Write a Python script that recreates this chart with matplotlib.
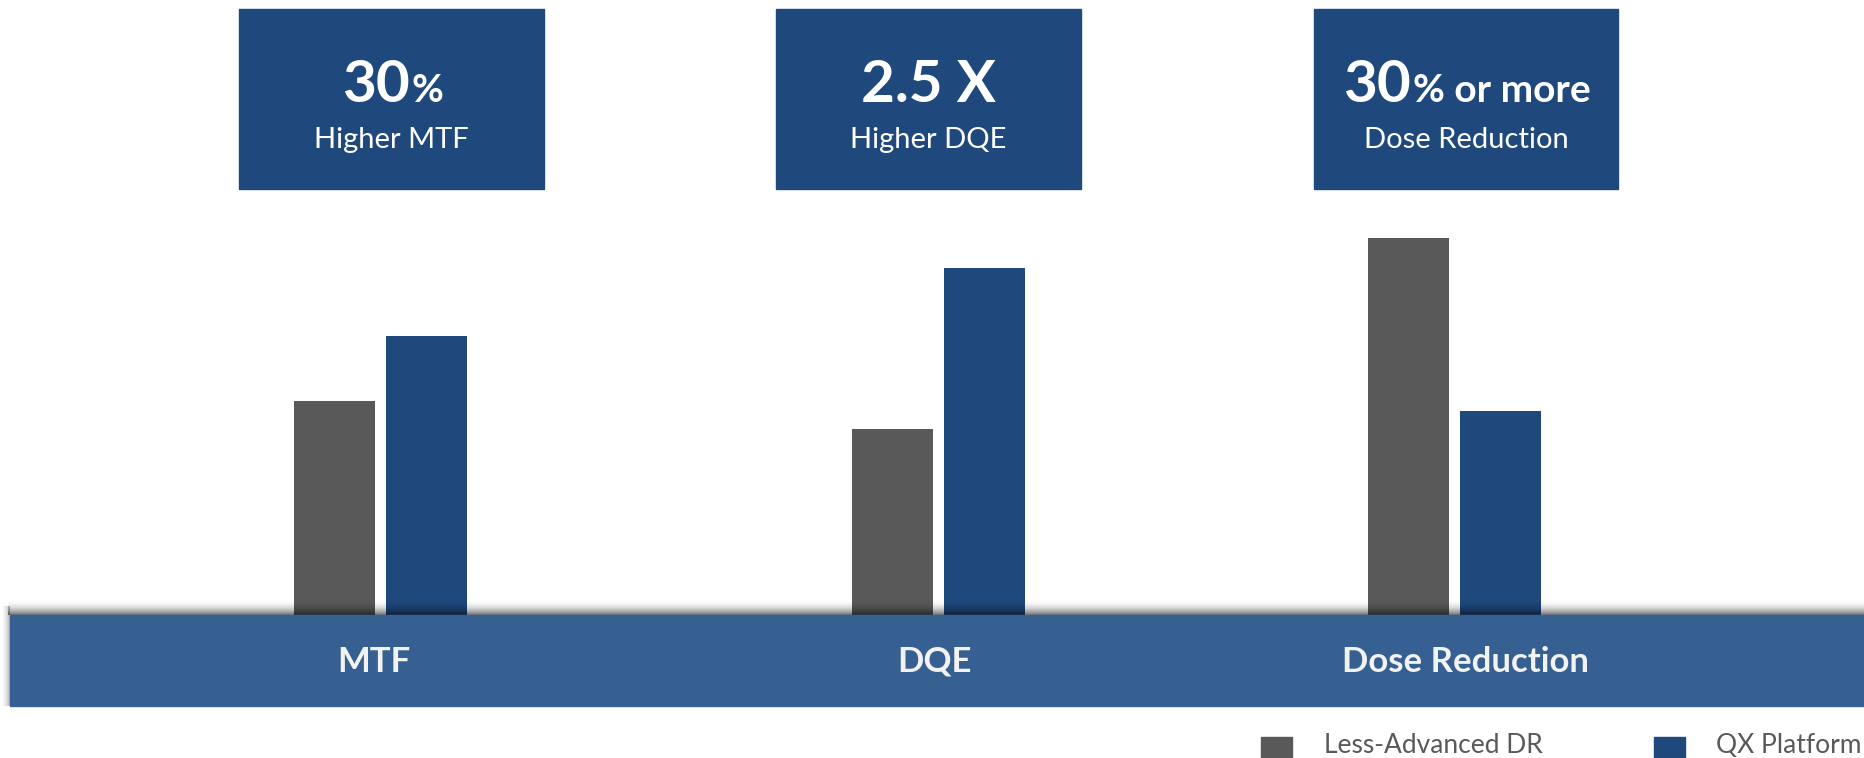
import numpy as np
import matplotlib.pyplot as plt
from matplotlib.patches import Rectangle

# data
categories = ['MTF', 'DQE', 'Dose Reduction']
series_names = ['Less-Advanced DR', 'QX Platform']
less_advanced = [214, 186, 377]   # gray bars
qx_platform = [279, 347, 204]     # blue bars
box_titles = [('30', '%'), ('2.5 X', ''), ('30', '% or more')]
box_subtitles = ['Higher MTF', 'Higher DQE', 'Dose Reduction']

# colours
GRAY = '#595959'
BLUE = '#1F497D'
BAND = '#376092'

plt.rcParams['font.family'] = ['Lato', 'DejaVu Sans']

W, H = 1864, 758
fig = plt.figure(figsize=(W / 100, H / 100), dpi=100)
fig.patch.set_facecolor('white')

# layout (figure pixels)
group_x = [380, 938, 1454]
label_x = [374, 935, 1466]
box_x = [(239, 544), (776, 1081), (1314, 1618)]
base_y = 615
bar_w = 81
offset = 46

# bar axes: y=0 sits on top of the band
ax = fig.add_axes([0, (H - base_y) / H, 1, base_y / H])
ax.set_xlim(0, W)
ax.set_ylim(0, base_y)
ax.axis('off')
gx = np.array(group_x)
ax.bar(gx - offset, less_advanced, width=bar_w, color=GRAY, label=series_names[0])
ax.bar(gx + offset, qx_platform, width=bar_w, color=BLUE, label=series_names[1])

# overlay axes in pixel coords (y downwards)
ov = fig.add_axes([0, 0, 1, 1], zorder=5)
ov.set_xlim(0, W)
ov.set_ylim(H, 0)
ov.axis('off')
ov.patch.set_alpha(0)

# soft shadow above / left of band
top = np.zeros((40, 2, 4))
a = np.linspace(0, 1, 40) ** 2 * 0.55
top[:, :, 3] = a[:, None]
ov.imshow(top, extent=(8, W, base_y, 599), aspect='auto', interpolation='bilinear', zorder=1)
left = np.zeros((2, 30, 4))
left[:, :, 3] = (np.linspace(0, 1, 30) ** 2 * 0.3)[None, :]
ov.imshow(left, extent=(0, 10, 706, 606), aspect='auto', interpolation='bilinear', zorder=1)

# band
ov.add_patch(Rectangle((10, base_y), W, 91, color=BAND, zorder=2))
for x, c in zip(label_x, categories):
    ov.text(x, 672, c, ha='center', va='baseline', fontsize=25, fontweight='bold',
            color='#F2F2F2', zorder=3)

# boxes on top
fig.canvas.draw()
r = fig.canvas.get_renderer()
for (x0, x1), (big, small), sub in zip(box_x, box_titles, box_subtitles):
    ov.add_patch(Rectangle((x0, 9), x1 - x0, 180, color=BLUE, zorder=2))
    cx = (x0 + x1) / 2
    t1 = ov.text(0, 102, big, ha='left', va='baseline', fontsize=42, fontweight='bold',
                 color='white', zorder=3)
    t2 = ov.text(0, 102, small, ha='left', va='baseline', fontsize=28, fontweight='bold',
                 color='white', zorder=3)
    w1 = t1.get_window_extent(r).width
    w2 = t2.get_window_extent(r).width if small else 0
    start = cx - (w1 + w2) / 2
    t1.set_x(start)
    t2.set_x(start + w1 + 2)
    ov.text(cx, 148, sub, ha='center', va='baseline', fontsize=21, color='white', zorder=3)

# legend along the bottom edge
for sx, tx, col, name in [(1261, 1324, GRAY, series_names[0]), (1654, 1716, BLUE, series_names[1])]:
    ov.add_patch(Rectangle((sx, 737), 31, 30, color=col, zorder=2))
    ov.text(tx, 753, name, ha='left', va='baseline', fontsize=19, color=GRAY, zorder=3)

fig.savefig('out.png', dpi=100)
